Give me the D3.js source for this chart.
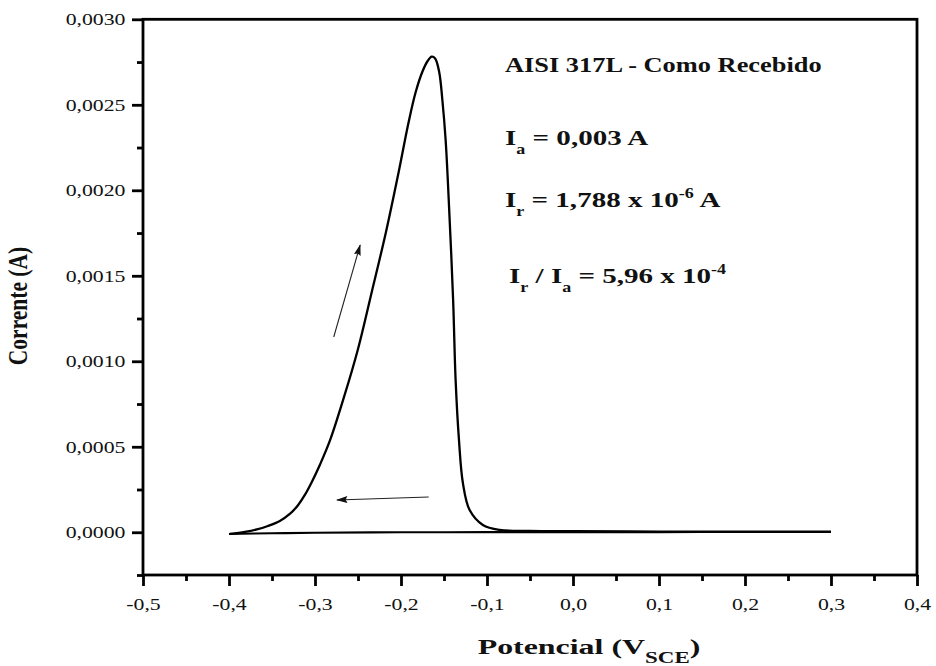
<!DOCTYPE html>
<html>
<head>
<meta charset="utf-8">
<script src="https://cdn.jsdelivr.net/npm/d3@7/dist/d3.min.js"></script>
<style>
  html, body { margin: 0; padding: 0; background: #fff; }
  svg { display: block; }
  text { font-family: "Liberation Serif", "Times New Roman", serif; fill: #111; }
</style>
</head>
<body>
<svg id="chart" width="936" height="666"></svg>
<script>
// Forward sweep: potential (V vs SCE) and current (A)
const forwardPotential = [
  -0.3990, -0.3815, -0.3676, -0.3548, -0.3409, -0.3293, -0.3200, -0.3118, -0.3037, -0.2944,
  -0.2828, -0.2666, -0.2503, -0.2340, -0.2172, -0.2027, -0.1911, -0.1829, -0.1748, -0.1690,
  -0.1643, -0.1603, -0.1556, -0.1519, -0.1481, -0.1446, -0.1394, -0.1365, -0.1326, -0.1280,
  -0.1202, -0.1048, -0.0854, -0.0505, 0.000, 0.100, 0.200, 0.300
];
const forwardCurrent = [
  -0.0000099, 0.0000018, 0.0000164, 0.0000368, 0.0000661, 0.0001070, 0.0001567, 0.0002181, 0.0002942, 0.0003936,
  0.0005339, 0.0007854, 0.0010661, 0.0014053, 0.0017620, 0.0021070, 0.0023994, 0.0025749, 0.0026977, 0.0027561,
  0.0027813, 0.002771, 0.002692, 0.002528, 0.002294, 0.001955, 0.001359, 0.000891, 0.000540, 0.000287,
  0.000130, 0.0000427, 0.0000135, 0.0000076, 0.0000058, 0.0000040, 0.0000030, 0.0000030
];

// Reverse sweep back to the starting potential
const reversePotential = [0.300, 0.200, 0.100, 0.000, -0.100, -0.200, -0.300, -0.350, -0.400];
const reverseCurrent = [0.0000015, 0.0000012, 0.000001, 0.0000008, 0.0000005, 0.0, -0.000003, -0.000006, -0.000010];

// Axis ticks
const xTicks = [-0.5, -0.4, -0.3, -0.2, -0.1, 0.0, 0.1, 0.2, 0.3, 0.4];
const yTicks = [0.0000, 0.0005, 0.0010, 0.0015, 0.0020, 0.0025, 0.0030];

// Sweep-direction arrows, [potential, current] from tail to head
const arrowUp = [[-0.2782, 0.001142], [-0.2475, 0.00168]];
const arrowLeft = [[-0.1678, 0.000206], [-0.2745, 0.000189]];

// Annotation lines: each is a list of [text, role]
const annotationTitle = "AISI 317L - Como Recebido";
const annotationIa = [["I", "n"], ["a", "sub"], [" = 0,003 A", "n"]];
const annotationIr = [["I", "n"], ["r", "sub"], [" = 1,788 x 10", "n"], ["-6", "sup"], [" A", "n"]];
const annotationRatio = [["I", "n"], ["r", "sub"], [" / I", "n"], ["a", "sub"], [" = 5,96 x 10", "n"], ["-4", "sup"]];

const xTitle = [["Potencial (V", "n"], ["SCE", "sub"], [")", "n"]];
const yTitle = "Corrente (A)";

// ---------------------------------------------------------------
const W = 936, H = 666;
const margin = { left: 143, right: 19, top: 19.3, bottom: 91 };
const SX = 1.32; // horizontal glyph stretch

const svg = d3.select("#chart");
const x = d3.scaleLinear().domain([-0.5, 0.4]).range([margin.left, W - margin.right]);
const y = d3.scaleLinear().domain([-0.00025, 0.0030]).range([H - margin.bottom, margin.top]);

const commaFmt = f => v => d3.format(f)(v).replace(".", ",").replace("\u2212", "-");

// Minor ticks
const xMinor = d3.range(-0.45, 0.4, 0.1);
const yMinor = d3.range(-0.00025, 0.003, 0.0005);

const axisStroke = 2.8;

const gxMinor = svg.append("g")
  .attr("transform", `translate(0,${y.range()[0]})`)
  .call(d3.axisBottom(x).tickValues(xMinor).tickSize(6).tickSizeOuter(0).tickFormat(""));
const gyMinor = svg.append("g")
  .attr("transform", `translate(${x.range()[0]},0)`)
  .call(d3.axisLeft(y).tickValues(yMinor).tickSize(6).tickSizeOuter(0).tickFormat(""));

const gx = svg.append("g")
  .attr("transform", `translate(0,${y.range()[0]})`)
  .call(d3.axisBottom(x).tickValues(xTicks).tickSize(11).tickSizeOuter(0)
    .tickPadding(24).tickFormat(commaFmt(".1f")));
const gy = svg.append("g")
  .attr("transform", `translate(${x.range()[0]},0)`)
  .call(d3.axisLeft(y).tickValues(yTicks).tickSize(11).tickSizeOuter(0)
    .tickPadding(17.5).tickFormat(commaFmt(".4f")));

[gxMinor, gyMinor, gx, gy].forEach(g => {
  g.select(".domain").remove();
  g.selectAll(".tick line").attr("stroke", "#000").attr("stroke-width", axisStroke);
});

gx.selectAll(".tick text")
  .attr("font-family", "Liberation Serif")
  .attr("font-size", 16.5)
  .attr("fill", "#111")
  .attr("dy", 0)
  .attr("y", 35)
  .attr("transform", `scale(${SX},1)`);

gy.selectAll(".tick text")
  .attr("font-family", "Liberation Serif")
  .attr("font-size", 16.5)
  .attr("fill", "#111")
  .attr("x", -17.5 / SX)
  .attr("transform", `scale(${SX},1)`);

// Plot frame
svg.append("rect")
  .attr("x", x.range()[0]).attr("y", y.range()[1])
  .attr("width", x.range()[1] - x.range()[0])
  .attr("height", y.range()[0] - y.range()[1])
  .attr("fill", "none").attr("stroke", "#000").attr("stroke-width", axisStroke);

// Curves
const line = d3.line().x(d => x(d[0])).y(d => y(d[1])).curve(d3.curveCatmullRom.alpha(0.5));
const forward = forwardPotential.map((p, i) => [p, forwardCurrent[i]]);
const reverse = reversePotential.map((p, i) => [p, reverseCurrent[i]]);

svg.append("path").datum(reverse).attr("d", line)
  .attr("fill", "none").attr("stroke", "#000").attr("stroke-width", 2.1);
svg.append("path").datum(forward).attr("d", line)
  .attr("fill", "none").attr("stroke", "#000").attr("stroke-width", 2.3)
  .attr("stroke-linejoin", "round");

// Arrow markers
svg.append("defs").append("marker")
  .attr("id", "head")
  .attr("viewBox", "0 0 13 8")
  .attr("refX", 12).attr("refY", 4)
  .attr("markerWidth", 14).attr("markerHeight", 7)
  .attr("markerUnits", "userSpaceOnUse")
  .attr("orient", "auto")
  .append("path").attr("d", "M0,0 L13,4 L0,8 L2,4 Z").attr("fill", "#111");

[arrowUp, arrowLeft].forEach(a => {
  svg.append("line")
    .attr("x1", x(a[0][0])).attr("y1", y(a[0][1]))
    .attr("x2", x(a[1][0])).attr("y2", y(a[1][1]))
    .attr("stroke", "#222").attr("stroke-width", 1.1)
    .attr("marker-end", "url(#head)");
});

// Rich text helper with sub/superscripts and horizontal stretch
function richText(parent, px, py, parts, size, opts = {}) {
  const sx = opts.sx || SX;
  const g = parent.append("g")
    .attr("transform", `translate(${px},${py}) ${opts.rotate ? "rotate(-90) " : ""}scale(${opts.rotate ? 1 : sx},${opts.rotate ? sx : 1})`);
  const t = g.append("text")
    .attr("font-weight", "bold")
    .attr("font-size", size)
    .attr("text-anchor", opts.anchor || "start");
  const subScale = opts.subScale || 0.62;
  let shift = 0;
  parts.forEach(([s, role]) => {
    let target = 0, fs = size;
    if (role === "sub") { target = size * 0.42; fs = size * subScale; }
    if (role === "sup") { target = -size * 0.42; fs = size * subScale; }
    t.append("tspan").attr("dy", target - shift).attr("font-size", fs).text(s);
    shift = target;
  });
  return t;
}

richText(svg, 505, 72, [[annotationTitle, "n"]], 20);
richText(svg, 505, 145, annotationIa, 22);
richText(svg, 505, 207, annotationIr, 22);
richText(svg, 509, 283, annotationRatio, 22);

richText(svg, 589, 654, xTitle, 22, { anchor: "middle", sx: 1.45, subScale: 0.72 });
richText(svg, 27, 306, [[yTitle, "n"]], 21.5, { anchor: "middle", rotate: true });
</script>
</body>
</html>
